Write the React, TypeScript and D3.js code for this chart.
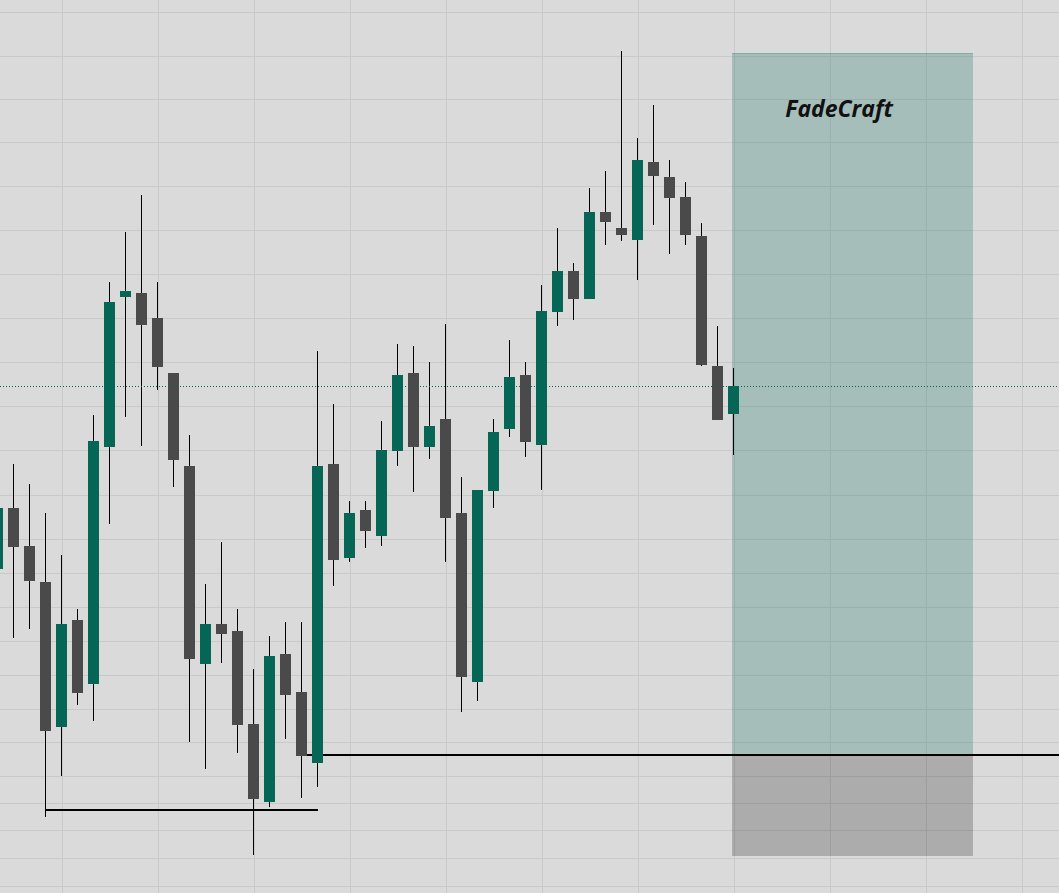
import React from "react";
import * as d3 from "d3";

const W = 1059;
const H = 893;

// OHLC data (bar index 0..46)
const opens = [1.1431,1.1492,1.1454,1.1418,1.1273,1.1380,1.1316,1.1553,1.1703,1.1707,1.1682,1.1627,1.1534,1.1336,1.1376,1.1369,1.1276,1.1198,1.1346,1.1308,1.1237,1.1536,1.1442,1.1490,1.1464,1.1549,1.1627,1.1553,1.1581,1.1487,1.1318,1.1509,1.1571,1.1625,1.1555,1.1688,1.1729,1.1701,1.1788,1.1772,1.1760,1.1838,1.1823,1.1803,1.1764,1.1634,1.1586];
const highs = [1.1503,1.1536,1.1516,1.1487,1.1445,1.1391,1.1585,1.1718,1.1768,1.1805,1.1718,1.1627,1.1565,1.1416,1.1458,1.1391,1.1331,1.1364,1.1378,1.1378,1.1649,1.1596,1.1499,1.1499,1.1579,1.1656,1.1654,1.1638,1.1676,1.1523,1.1510,1.1581,1.1660,1.1638,1.1715,1.1772,1.1737,1.1812,1.1829,1.1949,1.1862,1.1895,1.1840,1.1818,1.1777,1.1674,1.1632];
const lows = [1.1420,1.1362,1.1371,1.1183,1.1224,1.1295,1.1279,1.1476,1.1583,1.1554,1.1610,1.1513,1.1258,1.1231,1.1337,1.1247,1.1145,1.1193,1.1261,1.1202,1.1213,1.1414,1.1438,1.1452,1.1454,1.1534,1.1508,1.1541,1.1438,1.1288,1.1299,1.1492,1.1563,1.1543,1.1510,1.1674,1.1680,1.1701,1.1755,1.1759,1.1720,1.1775,1.1746,1.1755,1.1634,1.1580,1.1545];
const closes = [1.1492,1.1453,1.1419,1.1269,1.1376,1.1307,1.1559,1.1698,1.1709,1.1675,1.1633,1.1540,1.1341,1.1376,1.1366,1.1275,1.1201,1.1344,1.1305,1.1244,1.1534,1.1440,1.1487,1.1469,1.1550,1.1625,1.1553,1.1574,1.1482,1.1323,1.1510,1.1568,1.1623,1.1558,1.1689,1.1729,1.1701,1.1788,1.1778,1.1765,1.1840,1.1824,1.1802,1.1765,1.1635,1.1580,1.1614];

// grid levels (price) and vertical grid bar indices
const gridPrices = [1.1988,1.1944,1.1901,1.1858,1.1814,1.1770,1.1726,1.1682,1.1638,1.1594,1.1550,1.1505,1.1461,1.1427,1.1393,1.1359,1.1325,1.1291,1.1258,1.1224,1.1197,1.1170,1.1142,1.1114];
const gridBars = [4,10,16,22,28,34,40,46,52,58,64];

// horizontal levels
const lastPrice = 1.1614;
const supportLow = { from: 3, to: 20, price: 1.1190 };
const supportMain = { from: 19, price: 1.1245 };

// position box (bar indices, prices)
const boxFrom = 45.906;
const boxTo = 60.97;
const boxTarget = 1.1947;
const boxEntry = 1.1245;
const boxStop = 1.1144;
const boxLabel = "FadeCraft";
const labelBar = 52.6;
const labelPrice = 1.1883;

const UP = "#056655";
const DOWN = "#4a4a4a";

export default function App() {
  const x = d3.scaleLinear().domain([0, 1]).range([-2.5, 13.5]);
  const y = d3.scaleLinear().domain([1.2, 1.1107]).range([0, H]);
  const bw = 11;
  const crisp = (v: number) => Math.round(v) + 0.5;

  const idx = d3.range(opens.length);

  return (
    <svg
      width={W}
      height={H}
      style={{ position: "absolute", left: 0, top: 0, display: "block" }}
      shapeRendering="crispEdges"
    >
      <rect x={0} y={0} width={W} height={H} fill="#dadada" />
      {gridPrices.map((p, i) => (
        <line key={"h" + i} x1={0} x2={W} y1={crisp(y(p))} y2={crisp(y(p))} stroke="#c9c9c9" strokeWidth={1} />
      ))}
      {gridBars.map((b, i) => (
        <line key={"v" + i} x1={crisp(x(b))} x2={crisp(x(b))} y1={0} y2={H} stroke="#c9c9c9" strokeWidth={1} />
      ))}

      {/* position box */}
      <rect
        x={x(boxFrom)}
        y={y(boxTarget)}
        width={x(boxTo) - x(boxFrom)}
        height={y(boxEntry) - y(boxTarget)}
        fill="rgba(5,102,85,0.245)"
      />
      <line
        x1={x(boxFrom)}
        x2={x(boxTo)}
        y1={crisp(y(boxTarget))}
        y2={crisp(y(boxTarget))}
        stroke="rgba(5,102,85,0.2)"
        strokeWidth={1}
      />
      <rect
        x={x(boxFrom)}
        y={y(boxEntry)}
        width={x(boxTo) - x(boxFrom)}
        height={y(boxStop) - y(boxEntry)}
        fill="rgba(0,0,0,0.21)"
      />

      {/* horizontal levels */}
      <line
        x1={x(supportLow.from)}
        x2={x(supportLow.to)}
        y1={y(supportLow.price)}
        y2={y(supportLow.price)}
        stroke="#000"
        strokeWidth={2}
      />
      <line
        x1={x(supportMain.from)}
        x2={W}
        y1={y(supportMain.price)}
        y2={y(supportMain.price)}
        stroke="#000"
        strokeWidth={2}
      />

      {/* candles */}
      {idx.map((i) => {
        const o = opens[i];
        const c = closes[i];
        const up = c >= o;
        const xc = x(i);
        const top = y(Math.max(o, c));
        const bot = y(Math.min(o, c));
        return (
          <g key={"c" + i}>
            <rect x={xc - 0.5} y={y(highs[i])} width={1} height={Math.max(1, y(lows[i]) - y(highs[i]))} fill="#000" />
            <rect x={xc - bw / 2} y={top} width={bw} height={Math.max(1, bot - top)} fill={up ? UP : DOWN} />
          </g>
        );
      })}

      {/* last price dotted line */}
      <line
        x1={0}
        x2={W}
        y1={crisp(y(lastPrice))}
        y2={crisp(y(lastPrice))}
        stroke={UP}
        strokeWidth={1}
        strokeDasharray="1,2"
      />

      <text
        x={x(labelBar)}
        y={y(labelPrice)}
        textAnchor="middle"
        fontFamily="'Open Sans', sans-serif"
        fontWeight="bold"
        fontStyle="italic"
        fontSize={23}
        fill="#111"
        shapeRendering="auto"
      >
        {boxLabel}
      </text>
    </svg>
  );
}
